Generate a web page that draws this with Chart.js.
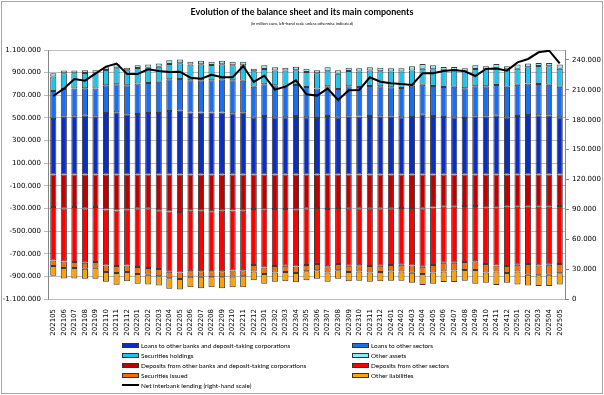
<!DOCTYPE html>
<html lang="en">
<head>
<meta charset="UTF-8">
<title>Evolution of the balance sheet and its main components</title>
<style>
  body { margin: 0; background: #fff; }
  #wrap { position: relative; width: 604px; height: 395px; overflow: hidden; }
  #chart { position: absolute; left: 0; top: 0; }
  #frame { position: absolute; left: 1px; top: 1px; width: 600px; height: 391px; border: 1px solid #a6a6a6; pointer-events: none; }
  #title { position: absolute; left: 0; width: 604px; top: 6px; text-align: center;
           font: bold 9px Lato, sans-serif; color: #000; }
  #sub { position: absolute; left: 0; width: 604px; top: 21px; text-align: center;
         font: 4px Lato, sans-serif; color: #000; }
  #legend { position: absolute; left: 122px; top: 341px; width: 420px;
            display: grid; grid-template-columns: 230px 190px; row-gap: 0; }
  .item { height: 9.8px; display: flex; align-items: center; font: 6.4px Lato, sans-serif; color: #000; white-space: nowrap; }
  .sw { width: 15px; height: 3px; border: 1px solid #333; margin-right: 2px; }
  .ln { width: 17px; height: 2px; background: #000; margin-right: 2px; }
</style>
</head>
<body>
<div id="wrap">
  <canvas id="chart" width="604" height="395"></canvas>
  <div id="title">Evolution of the balance sheet and its main components</div>
  <div id="sub">(in million euro, left-hand scale unless otherwise indicated)</div>
  <div id="legend"></div>
  <div id="frame"></div>
</div>

<script src="https://cdn.jsdelivr.net/npm/chart.js"></script>
<script>
// months
var months = ['202105','202106','202107','202108','202109','202110','202111','202112',
  '202201','202202','202203','202204','202205','202206','202207','202208','202209','202210','202211','202212',
  '202301','202302','202303','202304','202305','202306','202307','202308','202309','202310','202311','202312',
  '202401','202402','202403','202404','202405','202406','202407','202408','202409','202410','202411','202412',
  '202501','202502','202503','202504','202505'];

// assets (million euro)
var loansBanks = [491000,515000,515000,520000,515000,544000,550000,532000,535000,544000,
  544000,561000,564000,547000,547000,547000,547000,541000,550000,502000,
  517000,505000,505000,517000,505000,499000,517000,502000,515000,512000,
  517000,515000,515000,506000,508000,529000,517000,508000,505000,499000,
  515000,515000,520000,505000,517000,526000,523000,523000,505000];
var loansOther = [247000,241000,244000,242000,244000,244000,247000,256000,268000,265000,
  276000,280000,280000,285000,285000,285000,294000,291000,279000,274000,
  280000,283000,280000,274000,268000,260000,262000,254000,264000,261000,
  265000,264000,255000,259000,277000,265000,265000,265000,271000,263000,
  264000,264000,271000,271000,277000,277000,277000,271000,271000];
var secHoldings = [127000,138000,135000,135000,135000,136000,141000,133000,138000,135000,
  133000,136000,138000,139000,142000,136000,133000,133000,136000,136000,
  135000,130000,133000,130000,133000,135000,133000,135000,136000,136000,
  136000,133000,139000,144000,133000,141000,147000,148000,148000,150000,
  153000,150000,147000,153000,141000,144000,159000,162000,159000];
var otherAssets = [29000,24000,24000,24000,27000,23000,36000,23000,24000,27000,
  27000,32000,33000,26000,32000,29000,32000,32000,32000,23000,
  33000,29000,26000,32000,29000,27000,35000,30000,29000,29000,
  29000,32000,29000,29000,38000,42000,36000,29000,26000,26000,
  33000,27000,39000,27000,36000,33000,26000,29000,36000];

// liabilities (negative)
var depBanks = [-288000,-300000,-288000,-300000,-288000,-309000,-318000,-306000,-300000,-300000,
  -315000,-327000,-332000,-321000,-321000,-324000,-321000,-318000,-320000,-305000,
  -312000,-305000,-304000,-308000,-300000,-296000,-305000,-296000,-302000,-300000,
  -302000,-300000,-298000,-295000,-296000,-300000,-292000,-284000,-284000,-278000,
  -278000,-290000,-290000,-284000,-284000,-284000,-284000,-284000,-278000];
var depOther = [-471000,-468000,-486000,-480000,-486000,-495000,-491000,-498000,-518000,-527000,
  -521000,-533000,-533000,-533000,-533000,-530000,-533000,-530000,-526000,-495000,
  -510000,-503000,-502000,-504000,-500000,-494000,-505000,-494000,-504000,-502000,
  -506000,-506000,-502000,-503000,-509000,-515000,-508000,-495000,-495000,-495000,
  -489000,-501000,-513000,-524000,-513000,-507000,-519000,-513000,-513000];
var secIssued = [-50000,-59000,-53000,-53000,-50000,-58000,-62000,-58000,-62000,-59000,
  -62000,-56000,-59000,-50000,-50000,-53000,-53000,-54000,-54000,-58000,
  -58000,-57000,-56000,-58000,-55000,-56000,-56000,-55000,-56000,-56000,
  -57000,-56000,-58000,-60000,-63000,-65000,-65000,-79000,-70000,-71000,
  -77000,-74000,-55000,-62000,-61000,-94000,-88000,-88000,-82000];
var otherLiab = [-85000,-91000,-91000,-88000,-97000,-85000,-103000,-82000,-85000,-85000,
  -82000,-93000,-91000,-93000,-102000,-90000,-99000,-95000,-97000,-77000,
  -85000,-82000,-82000,-83000,-80000,-75000,-81000,-76000,-82000,-80000,
  -82000,-82000,-80000,-80000,-88000,-97000,-100000,-92000,-101000,-94000,
  -121000,-91000,-119000,-86000,-113000,-95000,-94000,-100000,-98000];

// right-hand scale
var netInterbank = [203800,211200,220900,219200,226300,233300,236300,225900,225900,230600,
  228900,227900,228200,222200,221200,225200,222600,222600,233900,217900,
  224200,210200,213200,219600,205500,204200,211200,199800,209500,209900,
  222600,218200,216600,215900,214900,226600,226600,228900,229900,228600,
  223900,230900,231300,229300,237600,241000,247700,249300,236600];

// tick labels of the right-hand scale
var rightTicks = [0, 30000, 60000, 90000, 120000, 150000, 180000, 210000, 240000];

function fmt(v) {
    var s = Math.abs(Math.round(v)).toString().replace(/\B(?=(\d{3})+(?!\d))/g, '.');
    return (v < 0 ? '-' : '') + s;
}

function bar(label, data, color) {
    return {
        type: 'bar', label: label, data: data, backgroundColor: color,
        borderColor: '#3a3a3a', borderWidth: 1, borderSkipped: false,
        yAxisID: 'y', stack: 'bs', order: 1,
        barPercentage: 0.58, categoryPercentage: 1
    };
}

var tickFont = { family: 'DejaVu Sans', size: 7 };

var chart = new Chart(document.getElementById('chart').getContext('2d'), {
    data: {
        labels: months,
        datasets: [
            bar('Loans to other banks and deposit-taking corporations', loansBanks, '#0a2fc0'),
            bar('Loans to other sectors', loansOther, '#1a6ef2'),
            bar('Securities holdings', secHoldings, '#1ec4ee'),
            bar('Other assets', otherAssets, '#86ecf6'),
            bar('Deposits from other banks and deposit-taking corporations', depBanks, '#c00000'),
            bar('Deposits from other sectors', depOther, '#ff0000'),
            bar('Securities issued', secIssued, '#ff6a00'),
            bar('Other liabilities', otherLiab, '#ffa200'),
            {
                type: 'line', label: 'Net interbank lending (right-hand scale)', data: netInterbank,
                borderColor: '#000', backgroundColor: '#000', borderWidth: 2,
                pointRadius: 0, tension: 0, yAxisID: 'y1', order: 0
            }
        ]
    },
    options: {
        responsive: false,
        animation: false,
        layout: { padding: { top: 50, bottom: 58, left: 0, right: 0 } },
        plugins: { legend: { display: false }, title: { display: false }, tooltip: { enabled: false } },
        scales: {
            x: {
                stacked: true,
                offset: true,
                grid: { display: false },
                border: { display: false },
                ticks: { font: tickFont, color: '#000', maxRotation: 90, minRotation: 90, autoSkip: false, padding: 2 },
                afterFit: function (s) { s.height = 38; }
            },
            y: {
                stacked: true,
                position: 'left',
                min: -1100000, max: 1100000,
                grid: { color: '#bcbcbc', tickLength: 4 },
                border: { color: '#868686' },
                ticks: { stepSize: 200000, font: tickFont, color: '#000', padding: 3, callback: fmt },
                afterFit: function (s) { s.width = 48; }
            },
            y1: {
                position: 'right',
                min: 0, max: 250000,
                grid: { drawOnChartArea: false, color: '#868686', tickLength: 4 },
                border: { color: '#868686' },
                ticks: { font: tickFont, color: '#000', padding: 3, callback: fmt },
                afterBuildTicks: function (s) {
                    s.ticks = rightTicks.map(function (v) { return { value: v }; });
                },
                afterFit: function (s) { s.width = 39; }
            }
        }
    }
});

// legend in two columns, from the datasets
var legend = document.getElementById('legend');
chart.data.datasets.forEach(function (ds) {
    var item = document.createElement('div');
    item.className = 'item';
    var sw = document.createElement('span');
    if (ds.type === 'line') {
        sw.className = 'ln';
    } else {
        sw.className = 'sw';
        sw.style.background = ds.backgroundColor;
    }
    item.appendChild(sw);
    item.appendChild(document.createTextNode(ds.label));
    legend.appendChild(item);
});
</script>
</body>
</html>
